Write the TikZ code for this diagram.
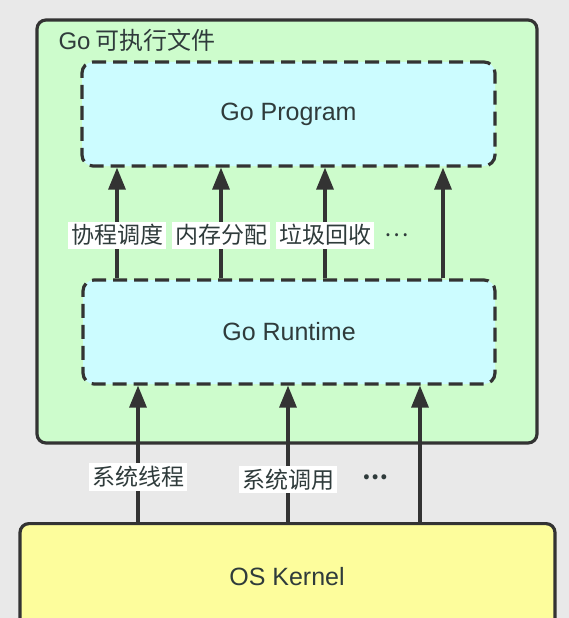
\documentclass[tikz,border=0pt]{standalone}
\usepackage{fontspec}
\setmainfont{Noto Sans CJK SC}
\newfontfamily\latinfont{Liberation Sans}
\usetikzlibrary{arrows.meta}
\definecolor{bggray}{HTML}{E9E9E9}
\definecolor{exegreen}{HTML}{CDFCCC}
\definecolor{layercyan}{HTML}{CCFCFF}
\definecolor{kernelyellow}{HTML}{FDFD9C}
\definecolor{linegray}{HTML}{333333}
\definecolor{textgray}{HTML}{2F3B3B}
\tikzset{
  box/.style={draw=linegray,line width=3.2pt,rounded corners=9pt,text=textgray,
    font=\latinfont\fontsize{25}{28}\selectfont},
  layer/.style={box,dash pattern=on 14pt off 7pt,fill=layercyan,rounded corners=11pt},
  tag/.style={fill=white,inner sep=3pt,text=textgray,font=\fontsize{23}{26}\selectfont},
  dots/.style={text=textgray,font=\fontsize{23}{26}\selectfont},
  up/.style={draw=linegray,line width=3.2pt,-{Triangle[width=17pt,length=22pt]}},
}
\begin{document}
\begin{tikzpicture}[x=1pt,y=-1pt]
    \fill[bggray] (0,0) rectangle (569,618);
    \useasboundingbox (0,0) rectangle (569,618);

    \node[box,fill=exegreen,minimum width=500pt,minimum height=423pt] (exe) at (287,231.5){};
    \node[anchor=west,text=textgray,font=\fontsize{24}{26}\selectfont] (title) at (55,40){{\latinfont Go} 可执行文件};
    \node[layer,minimum width=413pt,minimum height=104pt] (program) at (288.5,114){Go Program};
    \node[layer,minimum width=412pt,minimum height=104pt] (runtime) at (289,332){Go Runtime};
    \node[box,fill=kernelyellow,minimum width=535pt,minimum height=136pt,anchor=north] (kernel) at (287.5,522){};
    \node[text=textgray,font=\latinfont\fontsize{25}{28}\selectfont] (kerneltext) at (287,577){OS Kernel};

    % runtime -> program
    \foreach \x/\txt in {117/协程调度,221/内存分配,325/垃圾回收}
        \draw[up] (runtime.north -| \x,0) -- node[tag,pos=0.39]{\txt} (program.south -| \x,0);
    \draw[up] (runtime.north -| 443,0) -- (program.south -| 443,0);
    \node[dots] (moreruntime) at (397,235){…};

    % kernel -> runtime
    \draw[up] (kernel.north -| 138,0) -- node[tag,pos=0.33]{系统线程} (runtime.south -| 138,0);
    \draw[up] (kernel.north -| 288,0) -- node[tag,pos=0.31]{系统调用} (runtime.south -| 288,0);
    \draw[up] (kernel.north -| 420,0) -- (runtime.south -| 420,0);
    \node[dots,font=\bfseries\fontsize{23}{26}\selectfont] (morekernel) at (375,477){…};
\end{tikzpicture}
\end{document}
